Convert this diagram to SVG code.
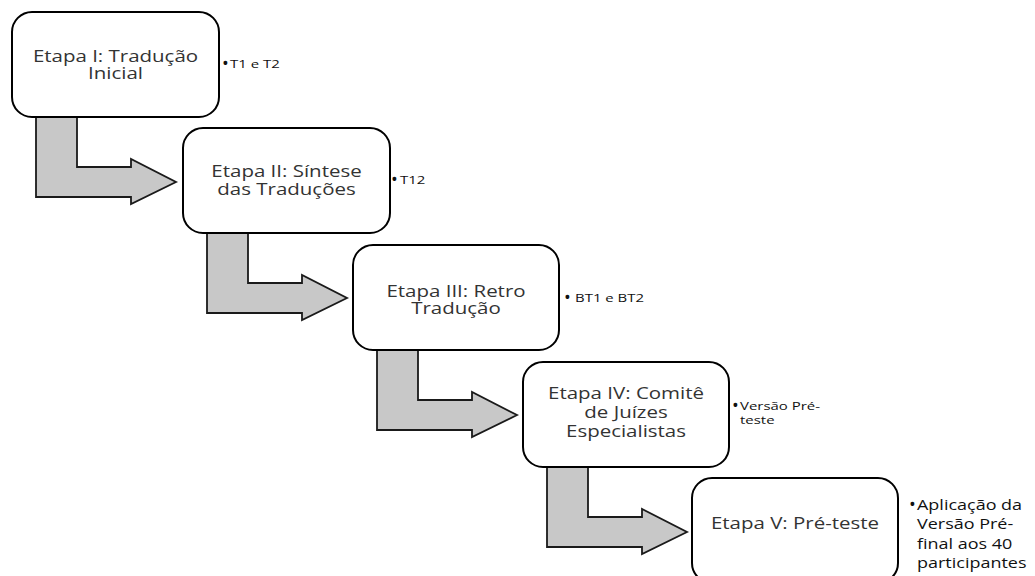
<svg xmlns="http://www.w3.org/2000/svg" width="1035" height="576" viewBox="0 0 1035 576">
<style>
.box{fill:#fff;stroke:#000;stroke-width:2}
.arr{fill:#c8c8c8;stroke:#1a1a1a;stroke-width:1.8;stroke-linejoin:miter}
.t{font-family:"Open Sans","DejaVu Sans",sans-serif;font-size:16px;fill:#333;text-anchor:middle}
.b{font-family:"Open Sans","DejaVu Sans",sans-serif;font-size:11.5px;fill:#111}
.b5{font-family:"Open Sans","DejaVu Sans",sans-serif;font-size:14.5px;fill:#111}
.d{font-family:"Open Sans","DejaVu Sans",sans-serif;font-size:18px;fill:#111}
</style>
<rect width="1035" height="576" fill="#fff"/>
<g id="connectors">
<path class="arr" d="M36 116 L36 197 L131 197 L131 204 L176 182 L131 159 L131 167 L77 167 L77 116 Z"/>
<path class="arr" d="M207 232 L207 313 L302 313 L302 320 L347 298 L302 275 L302 283 L248 283 L248 232 Z"/>
<path class="arr" d="M377 349 L377 430 L472 430 L472 437 L517 415 L472 392 L472 400 L418 400 L418 349 Z"/>
<path class="arr" d="M547 466 L547 547 L642 547 L642 554 L687 532 L642 509 L642 517 L588 517 L588 466 Z"/>
</g>
<g id="node1">
<rect class="box" x="12" y="12" width="207" height="105" rx="20"/>
<text class="t" transform="translate(115.5,62) scale(1.28,1)"><tspan x="0">Etapa I: Tradução</tspan><tspan x="0" dy="17.5">Inicial</tspan></text>
<text class="d" transform="translate(222,70)">•</text>
<text class="b" transform="translate(230,68) scale(1.3,1)">T1 e T2</text>
</g>
<g id="node2">
<rect class="box" x="183" y="128" width="207" height="105" rx="20"/>
<text class="t" transform="translate(286.5,177) scale(1.28,1)"><tspan x="0">Etapa II: Síntese</tspan><tspan x="0" dy="18">das Traduções</tspan></text>
<text class="d" transform="translate(391,186)">•</text>
<text class="b" transform="translate(400,184) scale(1.3,1)">T12</text>
</g>
<g id="node3">
<rect class="box" x="353" y="245" width="206" height="105" rx="20"/>
<text class="t" transform="translate(456,297) scale(1.28,1)"><tspan x="0">Etapa III: Retro</tspan><tspan x="0" dy="17.5">Tradução</tspan></text>
<text class="d" transform="translate(564,304)">•</text>
<text class="b" transform="translate(575,302) scale(1.3,1)">BT1 e BT2</text>
</g>
<g id="node4">
<rect class="box" x="523" y="362" width="206" height="105" rx="20"/>
<text class="t" transform="translate(626,399) scale(1.28,1)"><tspan x="0">Etapa IV: Comitê</tspan><tspan x="0" dy="19">de Juízes</tspan><tspan x="0" dy="19">Especialistas</tspan></text>
<text class="d" transform="translate(732,412)">•</text>
<text class="b" transform="translate(740,410) scale(1.3,1)"><tspan x="0">Versão Pré-</tspan><tspan x="0" dy="14">teste</tspan></text>
</g>
<g id="node5">
<rect class="box" x="692" y="478" width="206" height="105" rx="20"/>
<text class="t" transform="translate(795,529) scale(1.28,1)">Etapa V: Pré-teste</text>
<text class="d" transform="translate(909,511)">•</text>
<text class="b5" transform="translate(917,510) scale(1.24,1)"><tspan x="0">Aplicação da</tspan><tspan x="0" dy="19.5">Versão Pré-</tspan><tspan x="0" dy="19.5">final aos 40</tspan><tspan x="0" dy="19.5">participantes</tspan></text>
</g>
</svg>
